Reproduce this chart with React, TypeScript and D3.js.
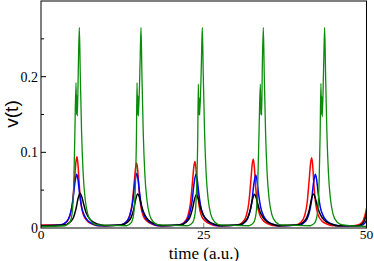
import React from "react";
import * as d3 from "d3";

const xTicks = [0, 25, 50];
const yTicks = [0, 0.1, 0.2];
const yMinorTicks = [0.05, 0.15, 0.25];

const greenSeries: [number, number][] = [
  [0, 0.002], [3.69, 0.003], [4.39, 0.007], [4.79, 0.02], [5.04, 0.06], [5.19, 0.12], [5.38, 0.192], [5.46, 0.15], [5.52, 0.175], [5.58, 0.148], [5.74, 0.215], [5.89, 0.265], [6.04, 0.2], [6.24, 0.125], [6.49, 0.07], [6.79, 0.038], [7.19, 0.018], [7.79, 0.008], [8.69, 0.004],
  [13.16, 0.003], [13.86, 0.007], [14.26, 0.02], [14.51, 0.06], [14.66, 0.12], [14.75, 0.192], [14.83, 0.15], [14.89, 0.175], [14.95, 0.148], [15.21, 0.215], [15.36, 0.265], [15.51, 0.2], [15.71, 0.125], [15.96, 0.07], [16.26, 0.038], [16.66, 0.018], [17.26, 0.008], [18.16, 0.004],
  [22.58, 0.003], [23.28, 0.007], [23.68, 0.02], [23.93, 0.06], [24.08, 0.12], [24.17, 0.19], [24.25, 0.15], [24.31, 0.172], [24.37, 0.149], [24.63, 0.215], [24.78, 0.265], [24.93, 0.2], [25.13, 0.125], [25.38, 0.07], [25.68, 0.038], [26.08, 0.018], [26.68, 0.008], [27.58, 0.004],
  [31.95, 0.003], [32.65, 0.007], [33.05, 0.02], [33.3, 0.06], [33.5, 0.13], [33.69, 0.19], [33.77, 0.15], [33.83, 0.172], [33.89, 0.149], [34.0, 0.215], [34.15, 0.265], [34.3, 0.2], [34.5, 0.125], [34.75, 0.07], [35.05, 0.038], [35.45, 0.018], [36.05, 0.008], [36.95, 0.004],
  [41.37, 0.003], [42.07, 0.007], [42.47, 0.02], [42.72, 0.06], [42.87, 0.12], [43.0, 0.191], [43.08, 0.15], [43.14, 0.174], [43.2, 0.147], [43.42, 0.215], [43.57, 0.265], [43.72, 0.2], [43.92, 0.125], [44.17, 0.07], [44.47, 0.038], [44.87, 0.018], [45.47, 0.008], [46.37, 0.004], [50, 0.002],
];

const redSeries: [number, number][] = [
  [0, 0.004], [3.03, 0.004], [3.93, 0.008], [4.43, 0.016], [4.83, 0.033], [5.13, 0.062], [5.38, 0.088], [5.53, 0.094], [5.68, 0.084], [5.88, 0.057], [6.13, 0.033], [6.53, 0.017], [7.13, 0.009], [7.93, 0.005], [9.03, 0.003],
  [12.2, 0.004], [13.1, 0.008], [13.6, 0.016], [14.0, 0.032], [14.3, 0.058], [14.55, 0.081], [14.7, 0.086], [14.85, 0.077], [15.05, 0.052], [15.3, 0.031], [15.7, 0.016], [16.3, 0.009], [17.1, 0.005], [18.2, 0.003],
  [21.16, 0.004], [22.06, 0.008], [22.56, 0.016], [22.96, 0.033], [23.26, 0.06], [23.51, 0.083], [23.66, 0.088], [23.81, 0.078], [24.01, 0.053], [24.26, 0.031], [24.66, 0.016], [25.26, 0.009], [26.06, 0.005], [27.16, 0.003],
  [30.12, 0.004], [31.02, 0.008], [31.52, 0.016], [31.92, 0.033], [32.22, 0.061], [32.47, 0.086], [32.62, 0.091], [32.77, 0.081], [32.97, 0.055], [33.22, 0.032], [33.62, 0.017], [34.22, 0.009], [35.02, 0.005], [36.12, 0.003],
  [39.08, 0.004], [39.98, 0.008], [40.48, 0.016], [40.88, 0.033], [41.18, 0.062], [41.43, 0.087], [41.58, 0.093], [41.73, 0.083], [41.93, 0.056], [42.18, 0.033], [42.58, 0.017], [43.18, 0.009], [43.98, 0.005], [45.08, 0.003], [48.0, 0.003], [49.0, 0.005], [49.5, 0.01], [49.8, 0.018], [50, 0.026],
];

const blueSeries: [number, number][] = [
  [0, 0.003], [2.98, 0.004], [3.98, 0.009], [4.48, 0.018], [4.88, 0.035], [5.18, 0.058], [5.48, 0.071], [5.68, 0.064], [5.93, 0.045], [6.23, 0.028], [6.68, 0.016], [7.28, 0.009], [8.08, 0.005], [9.08, 0.003],
  [12.2, 0.004], [13.2, 0.009], [13.7, 0.018], [14.1, 0.035], [14.4, 0.059], [14.7, 0.072], [14.9, 0.065], [15.15, 0.046], [15.45, 0.028], [15.9, 0.016], [16.5, 0.009], [17.3, 0.005], [18.3, 0.003],
  [21.3, 0.004], [22.3, 0.009], [22.8, 0.018], [23.2, 0.035], [23.5, 0.058], [23.8, 0.071], [24.0, 0.064], [24.25, 0.045], [24.55, 0.028], [25.0, 0.016], [25.6, 0.009], [26.4, 0.005], [27.4, 0.003],
  [30.48, 0.004], [31.48, 0.009], [31.98, 0.018], [32.38, 0.034], [32.68, 0.057], [32.98, 0.07], [33.18, 0.063], [33.43, 0.044], [33.73, 0.028], [34.18, 0.016], [34.78, 0.009], [35.58, 0.005], [36.58, 0.003],
  [39.64, 0.004], [40.64, 0.009], [41.14, 0.018], [41.54, 0.035], [41.84, 0.058], [42.14, 0.071], [42.34, 0.064], [42.59, 0.045], [42.89, 0.028], [43.34, 0.016], [43.94, 0.009], [44.74, 0.005], [45.74, 0.003], [49.0, 0.003], [49.7, 0.006], [50, 0.01],
];

const blackSeries: [number, number][] = [
  [0, 0.003], [3.49, 0.004], [4.49, 0.008], [4.99, 0.014], [5.39, 0.026], [5.69, 0.039], [5.99, 0.046], [6.24, 0.042], [6.54, 0.032], [6.89, 0.021], [7.39, 0.013], [7.99, 0.008], [8.79, 0.005], [9.79, 0.003],
  [12.35, 0.004], [13.35, 0.008], [13.85, 0.014], [14.25, 0.025], [14.55, 0.038], [14.85, 0.045], [15.1, 0.041], [15.4, 0.031], [15.75, 0.021], [16.25, 0.013], [16.85, 0.008], [17.65, 0.005], [18.65, 0.003],
  [21.36, 0.004], [22.36, 0.008], [22.86, 0.014], [23.26, 0.025], [23.56, 0.037], [23.86, 0.044], [24.11, 0.04], [24.41, 0.03], [24.76, 0.02], [25.26, 0.013], [25.86, 0.008], [26.66, 0.005], [27.66, 0.003],
  [30.27, 0.004], [31.27, 0.008], [31.77, 0.014], [32.17, 0.025], [32.47, 0.037], [32.77, 0.0445], [33.02, 0.041], [33.32, 0.031], [33.67, 0.021], [34.17, 0.013], [34.77, 0.008], [35.57, 0.005], [36.57, 0.003],
  [39.34, 0.004], [40.34, 0.008], [40.84, 0.014], [41.24, 0.025], [41.54, 0.038], [41.84, 0.045], [42.09, 0.041], [42.39, 0.031], [42.74, 0.021], [43.24, 0.013], [43.84, 0.008], [44.64, 0.005], [45.64, 0.003], [48.8, 0.003], [49.5, 0.007], [49.85, 0.014], [50, 0.02],
];

const W = 374;
const H = 261;
const left = 41;
const right = 366.5;
const top = 1;
const bottom = 228;

export default function App() {
  const x = d3.scaleLinear().domain([0, 50]).range([left, right]);
  const y = d3.scaleLinear().domain([0, 0.3]).range([bottom, top]);
  const line = d3
    .line<[number, number]>()
    .x((d) => x(d[0]))
    .y((d) => y(d[1]))
    .curve(d3.curveMonotoneX);

  const series = [
    { data: redSeries, color: "#ff0000", w: 1.5 },
    { data: blueSeries, color: "#0000ff", w: 1.5 },
    { data: blackSeries, color: "#000000", w: 1.5 },
    { data: greenSeries, color: "#0a8c0a", w: 1.3 },
  ];

  const font = "'Liberation Serif', 'DejaVu Serif', serif";

  return (
    <svg
      width={W}
      height={H}
      style={{ position: "absolute", left: 0, top: 0, background: "#fff" }}
    >
      <defs>
        <clipPath id="plotclip">
          <rect x={left} y={top} width={right - left} height={bottom - top} />
        </clipPath>
      </defs>
      <rect x={0} y={0} width={W} height={H} fill="#fff" />
      <g clipPath="url(#plotclip)">
        {series.map((s, i) => (
          <path
            key={i}
            d={line(s.data) || ""}
            fill="none"
            stroke={s.color}
            strokeWidth={s.w}
            strokeLinejoin="round"
          />
        ))}
      </g>
      {yTicks.map((t) => (
        <g key={"y" + t}>
          {t > 0 && (
            <line x1={left} x2={left + 5} y1={y(t)} y2={y(t)} stroke="#000" strokeWidth={1} />
          )}
          <text
            x={left - 3}
            y={y(t)}
            dy="0.35em"
            textAnchor="end"
            fontFamily={font}
            fontSize={14}
          >
            {t === 0 ? "0" : t.toFixed(1)}
          </text>
        </g>
      ))}
      {yMinorTicks.map((t) => (
        <line key={"ym" + t} x1={left} x2={left + 3} y1={y(t)} y2={y(t)} stroke="#000" strokeWidth={1} />
      ))}
      {xTicks.map((t) => (
        <g key={"x" + t}>
          {t > 0 && t < 50 && (
            <line x1={x(t)} x2={x(t)} y1={bottom} y2={bottom - 5} stroke="#888" strokeWidth={1} />
          )}
          <text
            x={x(t)}
            y={bottom + 11}
            textAnchor="middle"
            fontFamily={font}
            fontSize={13.5}
          >
            {t}
          </text>
        </g>
      ))}
      <rect
        x={left}
        y={top}
        width={right - left}
        height={bottom - top}
        fill="none"
        stroke="#000"
        strokeWidth={1}
      />
      <text
        x={204}
        y={258.5}
        textAnchor="middle"
        fontFamily={font}
        fontSize={17}
      >
        time (a.u.)
      </text>
      <text
        transform={`translate(18, ${114}) rotate(-90)`}
        textAnchor="middle"
        fontFamily="'Liberation Sans', Arial, sans-serif"
        fontSize={19}
      >
        v(t)
      </text>
    </svg>
  );
}
